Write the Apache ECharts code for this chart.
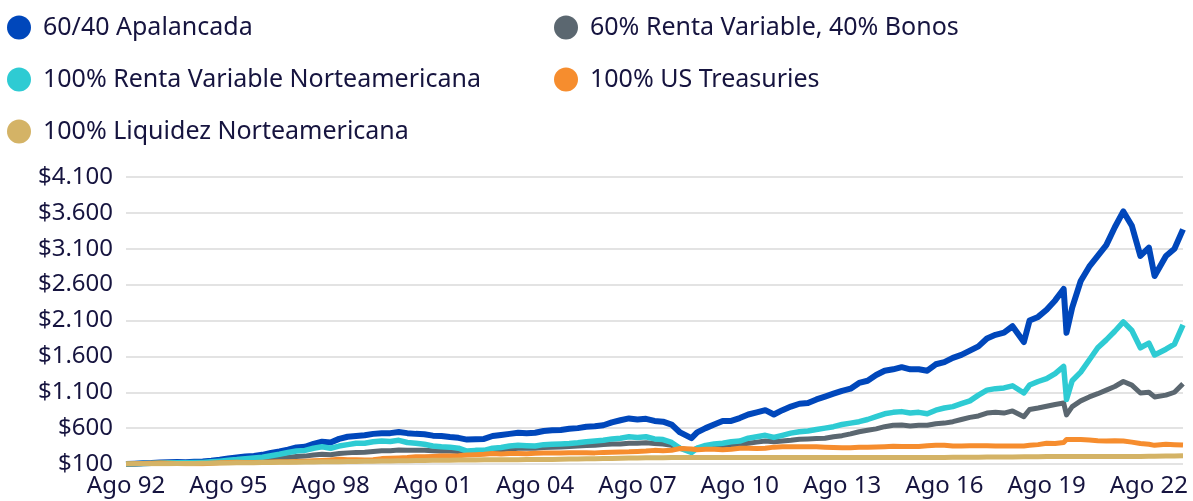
<!DOCTYPE html>
<html>
<head>
<meta charset="utf-8">
<script src="https://cdn.jsdelivr.net/npm/echarts@6/dist/echarts.min.js"></script>
<style>
  html, body { margin: 0; padding: 0; background: #fff; }
  #chart { width: 1193px; height: 501px; }
</style>
</head>
<body>
<div id="chart"></div>
<script>
// fechas (trimestrales, con algunos puntos en los giros del mercado)
var fechas = [
  '1992-08','1992-11',
  '1993-02','1993-05','1993-08','1993-11',
  '1994-02','1994-05','1994-08','1994-11',
  '1995-02','1995-05','1995-08','1995-11',
  '1996-02','1996-05','1996-08','1996-11',
  '1997-02','1997-05','1997-08','1997-11',
  '1998-02','1998-05','1998-08','1998-11',
  '1999-02','1999-05','1999-08','1999-11',
  '2000-02','2000-05','2000-08','2000-11',
  '2001-02','2001-05','2001-08','2001-11',
  '2002-02','2002-05','2002-08','2002-11',
  '2003-02','2003-05','2003-08','2003-11',
  '2004-02','2004-05','2004-08','2004-11',
  '2005-02','2005-05','2005-08','2005-11',
  '2006-02','2006-05','2006-08','2006-11',
  '2007-02','2007-05','2007-08','2007-11',
  '2008-02','2008-05','2008-08','2008-11',
  '2009-03','2009-05','2009-08','2009-11',
  '2010-02','2010-05','2010-08','2010-11',
  '2011-02','2011-05','2011-08','2011-11',
  '2012-02','2012-05','2012-08','2012-11',
  '2013-02','2013-05','2013-08','2013-11',
  '2014-02','2014-05','2014-08','2014-11',
  '2015-02','2015-05','2015-08','2015-11',
  '2016-02','2016-05','2016-08','2016-11',
  '2017-02','2017-05','2017-08','2017-11',
  '2018-02','2018-05','2018-08','2018-12',
  '2019-02','2019-05','2019-08','2019-11',
  '2020-02','2020-03','2020-05','2020-08','2020-11',
  '2021-02','2021-05','2021-08','2021-11',
  '2022-02','2022-05','2022-08','2022-10',
  '2023-02','2023-05','2023-08'
];

var apalancada = [
  100, 105,
  112, 113, 120, 125,
  128, 126, 132, 135,
  145, 160, 178, 192,
  205, 212, 228, 255,
  275, 300, 330, 340,
  380, 410, 400, 450,
  480, 490, 500, 520,
  530, 530, 545, 530,
  520, 515, 495, 490,
  475, 465, 440, 445,
  450, 490, 505, 520,
  535, 530, 535, 560,
  570, 575, 590, 600,
  620, 625, 640, 680,
  710, 735, 720, 730,
  700, 690, 650, 540,
  460, 540, 600, 650,
  700, 700, 740, 790,
  820, 850, 790, 850,
  900, 940, 950, 1000,
  1040, 1080, 1120, 1150,
  1230, 1260, 1340, 1400,
  1420, 1450, 1420, 1420,
  1400, 1490, 1520, 1580,
  1620, 1680, 1740, 1850,
  1900, 1930, 2020, 1800,
  2100, 2150, 2250, 2380,
  2540, 1930, 2280, 2650, 2850,
  3000, 3150, 3400, 3620,
  3420, 3000, 3115, 2720,
  3000, 3100, 3370
];

var rv6040 = [
  100, 102,
  106, 108, 112, 112,
  112, 110, 113, 115,
  122, 130, 138, 145,
  150, 155, 162, 172,
  180, 192, 205, 210,
  225, 235, 230, 245,
  255, 262, 265, 275,
  285, 285, 295, 290,
  290, 290, 285, 280,
  280, 275, 265, 275,
  278, 295, 300, 310,
  318, 318, 320, 330,
  335, 338, 345, 350,
  358, 360, 370, 380,
  380, 390, 390, 395,
  385, 380, 360, 320,
  290, 320, 340, 360,
  350, 360, 375, 390,
  405, 420, 410, 420,
  430, 445, 450, 455,
  460, 480, 495, 520,
  550, 570, 590, 620,
  640, 645, 630, 640,
  640, 660, 670, 690,
  720, 750, 770, 810,
  820, 810, 840, 760,
  860, 880, 905, 930,
  950, 785, 900, 980, 1035,
  1080, 1130, 1180, 1250,
  1200, 1090, 1100, 1035,
  1060, 1100, 1220
];

var rentaVariable = [
  100, 103,
  108, 110, 115, 116,
  118, 117, 120, 122,
  130, 140, 152, 162,
  175, 185, 195, 215,
  235, 260, 280, 290,
  320, 340, 320, 350,
  370, 390, 390, 410,
  420, 415, 430, 400,
  390, 375, 350, 340,
  335, 320, 280, 290,
  290, 320, 330, 350,
  360, 355, 350, 370,
  375, 380, 385, 395,
  410, 420, 430, 450,
  460, 480, 470, 480,
  450, 440, 400, 320,
  260, 320, 360, 380,
  390, 410, 420, 460,
  480, 500, 470, 500,
  530, 550, 560, 580,
  600, 620, 650, 670,
  690, 720, 760, 800,
  820, 830, 810, 820,
  800, 850, 880, 900,
  940, 980, 1060, 1130,
  1150, 1160, 1190, 1090,
  1200, 1250, 1290, 1360,
  1460, 1000, 1260, 1380, 1550,
  1720, 1830, 1950, 2080,
  1960, 1720, 1785, 1620,
  1700, 1770, 2040
];

var treasuries = [
  100, 102,
  106, 110, 114, 110,
  106, 104, 105, 104,
  110, 116, 120, 124,
  122, 122, 124, 128,
  130, 132, 136, 140,
  145, 150, 155, 165,
  160, 158, 156, 158,
  175, 180, 185, 190,
  200, 200, 205, 210,
  210, 215, 225, 230,
  235, 245, 240, 245,
  245, 242, 250, 252,
  255, 255, 258, 258,
  258, 255, 262, 265,
  268, 270, 275, 280,
  290, 285, 292, 315,
  310, 300, 305, 305,
  300, 305, 320, 318,
  315, 320, 335, 340,
  340, 340, 342, 340,
  335, 330, 325, 328,
  332, 335, 338, 342,
  348, 345, 343, 345,
  355, 360, 362, 350,
  352, 355, 355, 355,
  350, 350, 350, 352,
  360, 370, 390, 385,
  400, 440, 440, 440, 435,
  425, 420, 425, 420,
  405, 385, 375, 360,
  375, 370, 365
];

var liquidez = [
  100, 101,
  102, 103, 104, 105,
  106, 107, 108, 110,
  111, 113, 114, 116,
  117, 118, 120, 121,
  123, 124, 126, 127,
  129, 130, 132, 133,
  135, 136, 138, 140,
  141, 143, 145, 147,
  149, 150, 152, 153,
  154, 155, 156, 157,
  158, 158, 159, 160,
  160, 161, 162, 163,
  164, 166, 168, 170,
  172, 174, 176, 178,
  180, 182, 184, 186,
  187, 188, 189, 190,
  190, 190, 190, 190,
  190, 190, 190, 190,
  190, 190, 190, 190,
  190, 190, 190, 190,
  190, 190, 190, 190,
  190, 190, 190, 191,
  191, 191, 191, 191,
  192, 192, 192, 193,
  193, 194, 195, 196,
  197, 198, 199, 200,
  201, 202, 203, 204,
  205, 205, 205, 205, 205,
  205, 205, 205, 205,
  205, 206, 207, 208,
  210, 212, 214
];

var nombres = [
  '60/40 Apalancada',
  '60% Renta Variable, 40% Bonos',
  '100% Renta Variable Norteamericana',
  '100% US Treasuries',
  '100% Liquidez Norteamericana'
];
var colores = ['#0047bb', '#5b6770', '#2ecbd3', '#f68d2e', '#d4b366'];
var grosores = [6, 5, 5.5, 5, 5];
var valores = [apalancada, rv6040, rentaVariable, treasuries, liquidez];

// meses desde Ago 92
function mes(f) {
  var p = f.split('-');
  return (parseInt(p[0]) - 1992) * 12 + (parseInt(p[1]) - 8);
}

var textColor = '#16143f';
var fontFam = '"Noto Sans", sans-serif';

var dom = document.getElementById("chart");
var myChart = echarts.init(dom);

var series = [];
for (var s = 0; s < nombres.length; s++) {
  var pts = [];
  for (var i = 0; i < fechas.length; i++) {
    pts.push([mes(fechas[i]), valores[s][i]]);
  }
  series.push({
    name: nombres[s],
    type: 'line',
    data: pts,
    showSymbol: false,
    symbol: 'none',
    lineStyle: { color: colores[s], width: grosores[s], join: 'round' },
    itemStyle: { color: colores[s] },
    z: 2 + s
  });
}

var legendBase = {
  orient: 'vertical',
  icon: 'circle',
  itemWidth: 38,
  itemHeight: 24,
  itemGap: 27,
  textStyle: { fontSize: 25, lineHeight: 25, color: textColor, fontFamily: fontFam },
  selectedMode: false
};

option = {
  animation: false,
  backgroundColor: '#fff',
  legend: [
    Object.assign({}, legendBase, { left: 2, top: 10, data: [nombres[0], nombres[2], nombres[4]] }),
    Object.assign({}, legendBase, { left: 549, top: 10, data: [nombres[1], nombres[3]] })
  ],
  grid: { left: 126, right: 10, top: 177, bottom: 37, containLabel: false },
  xAxis: {
    type: 'value',
    min: 0,
    max: 372,
    interval: 36,
    axisLine: { show: false },
    axisTick: { show: false },
    splitLine: { show: false },
    axisLabel: {
      showMaxLabel: false,
      margin: 10,
      fontSize: 24,
      color: textColor,
      fontFamily: fontFam,
      formatter: function (v) {
        var y = (92 + v / 12) % 100;
        return 'Ago ' + (y < 10 ? '0' + y : y);
      }
    }
  },
  yAxis: {
    type: 'value',
    min: 100,
    max: 4100,
    interval: 500,
    axisLine: { show: false },
    axisTick: { show: false },
    splitLine: { lineStyle: { color: '#e3e3e3', width: 2 } },
    axisLabel: {
      margin: 13,
      fontSize: 24,
      color: textColor,
      fontFamily: fontFam,
      formatter: function (v) {
        return '$' + String(v).replace(/\B(?=(\d{3})+(?!\d))/g, '.');
      }
    }
  },
  series: series
};

if (option && typeof option === "object") {
  myChart.setOption(option, true);
}
</script>
</body>
</html>
